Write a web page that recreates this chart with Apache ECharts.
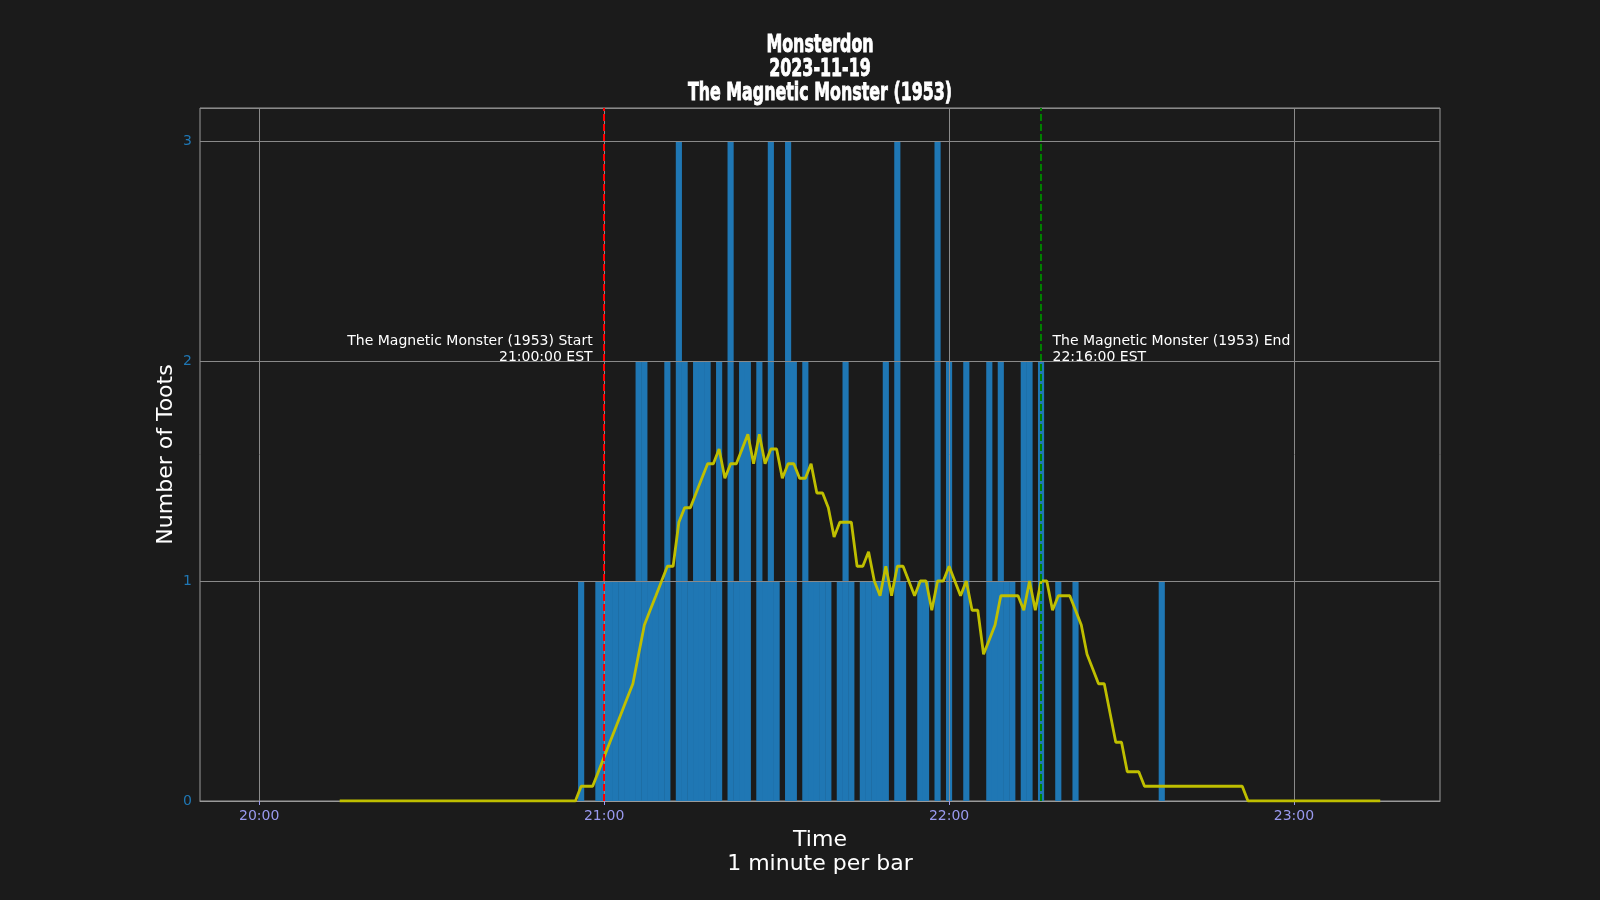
<!DOCTYPE html>
<html>
<head>
<meta charset="utf-8">
<title>Monsterdon 2023-11-19</title>
<script src="https://cdn.jsdelivr.net/npm/echarts@6/dist/echarts.min.js"></script>
<style>
    html, body { margin: 0; padding: 0; background: #1b1b1b; }
    #chart { width: 1600px; height: 900px; }
</style>
</head>
<body>
<div id="chart"></div>
<script>
// toots per minute, one bar per minute from 20:00 (index = minutes after 20:00)
const tootCounts = [
    0, 0, 0, 0, 0, 0, 0, 0, 0, 0,
    0, 0, 0, 0, 0, 0, 0, 0, 0, 0,
    0, 0, 0, 0, 0, 0, 0, 0, 0, 0,
    0, 0, 0, 0, 0, 0, 0, 0, 0, 0,
    0, 0, 0, 0, 0, 0, 0, 0, 0, 0,
    0, 0, 0, 0, 0, 0, 1, 0, 0, 1,
    1, 1, 1, 1, 1, 1, 2, 2, 1, 1,
    1, 2, 0, 3, 2, 1, 2, 2, 2, 1,
    2, 0, 3, 1, 2, 2, 0, 2, 1, 3,
    1, 0, 3, 2, 0, 2, 1, 1, 1, 1,
    0, 1, 2, 1, 0, 1, 1, 1, 1, 2,
    0, 3, 1, 0, 0, 1, 1, 0, 3, 0,
    2, 0, 0, 2, 0, 0, 0, 2, 1, 2,
    1, 1, 0, 2, 2, 0, 2, 0, 0, 1,
    0, 0, 1, 0, 0, 0, 0, 0, 0, 0,
    0, 0, 0, 0, 0, 0, 0, 1, 0, 0,
    0, 0, 0, 0, 0, 0, 0, 0, 0, 0,
    0, 0, 0, 0, 0, 0, 0, 0, 0, 0,
    0, 0, 0, 0, 0, 0, 0, 0, 0, 0,
    0, 0, 0, 0, 0, 0,
];

// yellow rolling average line, first point at 20:14
const ROLLING_START = 14;
const rollingMean = [
    0, 0, 0, 0, 0, 0,
    0, 0, 0, 0, 0, 0, 0, 0, 0, 0,
    0, 0, 0, 0, 0, 0, 0, 0, 0, 0,
    0, 0, 0, 0, 0, 0, 0, 0, 0, 0,
    0, 0, 0, 0, 0, 0, 0.067, 0.067, 0.067, 0.133,
    0.2, 0.267, 0.333, 0.4, 0.467, 0.533, 0.667, 0.8, 0.867, 0.933,
    1, 1.067, 1.067, 1.267, 1.333, 1.333, 1.4, 1.467, 1.533, 1.533,
    1.6, 1.467, 1.533, 1.533, 1.6, 1.667, 1.533, 1.667, 1.533, 1.6,
    1.6, 1.467, 1.533, 1.533, 1.467, 1.467, 1.533, 1.4, 1.4, 1.333,
    1.2, 1.267, 1.267, 1.267, 1.067, 1.067, 1.133, 1, 0.933, 1.067,
    0.933, 1.067, 1.067, 1, 0.933, 1, 1, 0.867, 1, 1,
    1.067, 1, 0.933, 1, 0.867, 0.867, 0.667, 0.733, 0.8, 0.933,
    0.933, 0.933, 0.933, 0.867, 1, 0.867, 1, 1, 0.867, 0.933,
    0.933, 0.933, 0.867, 0.8, 0.667, 0.6, 0.533, 0.533, 0.4, 0.267,
    0.267, 0.133, 0.133, 0.133, 0.067, 0.067, 0.067, 0.067, 0.067, 0.067,
    0.067, 0.067, 0.067, 0.067, 0.067, 0.067, 0.067, 0.067, 0.067, 0.067,
    0.067, 0.067, 0, 0, 0, 0, 0, 0, 0, 0,
    0, 0, 0, 0, 0, 0, 0, 0, 0, 0,
    0, 0, 0, 0, 0, 0,
];

const tickMinutes = [0, 60, 120, 180];
const tickLabels = ["20:00", "21:00", "22:00", "23:00"];
const titleLines = ["Monsterdon", "2023-11-19", "The Magnetic Monster (1953)"];

const eventMinutes = [60, 136];
const eventColors = ["#ff0000", "#008000"];
const eventTexts = [
    "The Magnetic Monster (1953) Start\n21:00:00 EST",
    "The Magnetic Monster (1953) End\n22:16:00 EST",
];

const X_MIN = -10.3, X_MAX = 205.4;
const GRID = { left: 200, right: 160, top: 108, bottom: 99 };
const barPx = (1600 - GRID.left - GRID.right) / (X_MAX - X_MIN);

const GRID_COLOR = "#8a8a8a";
const FONT = "DejaVu Sans";

var chart = echarts.init(document.getElementById("chart"));

var option = {
    backgroundColor: "#1b1b1b",
    animation: false,
    grid: {
        left: GRID.left,
        right: GRID.right,
        top: GRID.top,
        bottom: GRID.bottom,
        show: true,
        borderColor: "#9a9a9a",
        borderWidth: 1,
    },
    xAxis: {
        type: "value",
        min: X_MIN,
        max: X_MAX,
        z: 2,
        name: "Time\n1 minute per bar",
        nameLocation: "middle",
        nameGap: 27,
        nameTextStyle: { color: "#ffffff", fontSize: 22, lineHeight: 24, fontFamily: FONT },
        axisLine: { show: true, onZero: false, lineStyle: { color: "#9a9a9a" } },
        axisTick: { show: true, customValues: tickMinutes, length: 4, lineStyle: { color: "#9999ee" } },
        axisLabel: {
            customValues: tickMinutes,
            color: "#9999ee",
            fontSize: 14,
            fontFamily: FONT,
            margin: 8,
            formatter: v => tickLabels[tickMinutes.indexOf(v)],
        },
        splitLine: { show: true, lineStyle: { color: GRID_COLOR, width: 1 } },
    },
    yAxis: {
        type: "value",
        min: 0,
        max: 3.15,
        interval: 1,
        z: 2,
        name: "Number of Toots",
        nameLocation: "middle",
        nameRotate: 90,
        nameGap: 23,
        nameMoveOverlap: false,
        nameTextStyle: { color: "#ffffff", fontSize: 22, fontFamily: FONT },
        axisLine: { show: false },
        axisTick: { show: true, length: 4, lineStyle: { color: GRID_COLOR } },
        axisLabel: { color: "#1f77b4", fontSize: 14, fontFamily: FONT, margin: 8, showMaxLabel: false },
        splitLine: { show: true, lineStyle: { color: GRID_COLOR, width: 1 } },
    },
    series: [
        {
            name: "Toots",
            type: "bar",
            z: 1,
            barWidth: barPx + 0.4,
            itemStyle: { color: "#1f77b4" },
            data: tootCounts.map((c, i) => [i, c]),
        },
        {
            name: "Rolling mean",
            type: "line",
            z: 3,
            showSymbol: false,
            lineStyle: { color: "#bfbf00", width: 2.8 },
            data: rollingMean.map((v, i) => [ROLLING_START + i, v]),
            markLine: {
                silent: true,
                symbol: "none",
                label: { show: false },
                data: eventMinutes.map((m, i) => ({
                    xAxis: m,
                    lineStyle: { color: eventColors[i], type: [7, 3], width: 2 },
                })),
            },
        },
    ],
};
chart.setOption(option);

// titles and annotations placed after the axes exist
var graphics = titleLines.map((t, i) => ({
    type: "text",
    x: 820,
    y: 45 + i * 24,
    scaleX: 0.635,
    style: {
        text: t,
        fill: "#ffffff",
        stroke: "#ffffff",
        lineWidth: 0.9,
        font: 'bold 25px "DejaVu Sans"',
        align: "center",
        verticalAlign: "middle",
    },
}));

eventMinutes.forEach((m, i) => {
    var left = i === 0;
    var pt = chart.convertToPixel({ gridIndex: 0 }, [left ? m - 2 : m + 2, 2]);
    graphics.push({
        type: "text",
        x: pt[0],
        y: pt[1] + 4,
        style: {
            text: eventTexts[i],
            fill: "#ffffff",
            font: '14px "DejaVu Sans"',
            lineHeight: 16,
            align: left ? "right" : "left",
            verticalAlign: "bottom",
        },
    });
});

chart.setOption({ graphic: graphics });
</script>
</body>
</html>
